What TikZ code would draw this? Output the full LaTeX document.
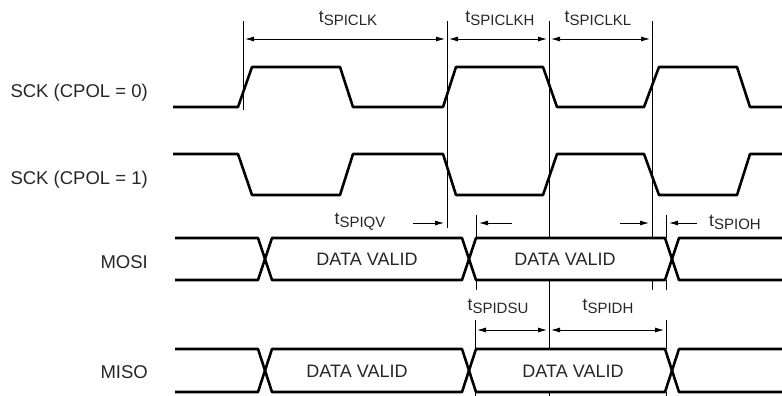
\documentclass[tikz,border=0pt]{standalone}
\usepackage{fontspec}
\setmainfont{Liberation Sans}
\usepackage{tikz}
\usetikzlibrary{calc,positioning,arrows.meta}
\newcommand{\tsub}[1]{t\raisebox{-3pt}{\fontsize{15}{15}\selectfont #1}}
\tikzset{
  >={Latex[length=9pt,width=5pt]},
  signal/.style={draw=black, line width=2.6pt, line join=round},
  busmask/.style={fill=white},
  marker/.style={draw=black, line width=0.9pt},
  dimarrow/.style={draw=black, line width=0.9pt, <->, shorten <=2pt, shorten >=2pt},
  pointarrow/.style={draw=black, line width=0.9pt, ->, shorten >=3pt},
  siglabel/.style={anchor=east, inner sep=0pt, text=black!85, font=\fontsize{18.5}{21}\selectfont},
  datalabel/.style={inner sep=0pt, text=black!85, font=\fontsize{18}{21}\selectfont},
  timelabel/.style={inner sep=0pt, text=black!85, font=\fontsize{17.5}{20}\selectfont},
}
\begin{document}
\begin{tikzpicture}[x=1pt, y=-1pt]
      \useasboundingbox (0,0) rectangle (782,396);

      % signal names
      \node[siglabel] (NameSckA) at (148,93) {SCK (CPOL = 0)};
      \node[siglabel] (NameSckB) at (148,180) {SCK (CPOL = 1)};
      \node[siglabel] (NameMosi) at (148,262) {MOSI};
      \node[siglabel] (NameMiso) at (148,372) {MISO};

      % reference lines
      \coordinate (EdgeATop) at (243,21);  \coordinate (EdgeABot) at (243,110);
      \coordinate (EdgeBTop) at (447,21);  \coordinate (EdgeBBot) at (447,228);
      \coordinate (EdgeCTop) at (549,21);  \coordinate (EdgeCBot) at (549,396);
      \coordinate (EdgeDTop) at (652,21);  \coordinate (EdgeDBot) at (652,290);
      \coordinate (MosiATop) at (476,215); \coordinate (MosiABot) at (476,290);
      \coordinate (MosiBTop) at (666,215); \coordinate (MosiBBot) at (666,290);
      \coordinate (MisoATop) at (475,320); \coordinate (MisoABot) at (475,396);
      \coordinate (MisoBTop) at (666,320); \coordinate (MisoBBot) at (666,396);
      \foreach \n in {EdgeA,EdgeB,EdgeC,EdgeD,MosiA,MosiB,MisoA,MisoB}
        \path[marker] (\n Top) -- (\n Bot);

      % clocks
      \path[signal] (173,107) -- (238,107) -- (252,67) -- (340,67) -- (353,107)
          -- (443,107) -- (456,67) -- (543,67) -- (557,107) -- (644,107)
          -- (659,67) -- (737,67) -- (750,107) -- (782,107);
      \path[signal] (173,154) -- (238,154) -- (252,195) -- (340,195) -- (353,154)
          -- (443,154) -- (456,195) -- (543,195) -- (557,154) -- (644,154)
          -- (659,195) -- (737,195) -- (750,154) -- (782,154);

      % data lines
      \foreach \top/\bot in {238/280, 349/392}{
        \path[busmask] (175,\top) rectangle (782,\bot);
        \path[signal] (175,\top) -- (258,\top) -- (272,\bot) -- (462,\bot) -- (476,\top)
            -- (665,\top) -- (679,\bot) -- (782,\bot);
        \path[signal] (175,\bot) -- (258,\bot) -- (272,\top) -- (462,\top) -- (476,\bot)
            -- (665,\bot) -- (679,\top) -- (782,\top);
      }
      \node[datalabel] (MosiValidA) at (367,259) {DATA VALID};
      \node[datalabel] (MosiValidB) at (565,259) {DATA VALID};
      \node[datalabel] (MisoValidA) at (357,371) {DATA VALID};
      \node[datalabel] (MisoValidB) at (573,371) {DATA VALID};

      % rows of the dimension arrows
      \coordinate (ClkRow) at (0,39);
      \coordinate (OutRow) at (0,223);
      \coordinate (InRow) at (0,330);

      \path[dimarrow] (EdgeATop |- ClkRow) -- (EdgeBTop |- ClkRow);
      \path[dimarrow] (EdgeBTop |- ClkRow) -- (EdgeCTop |- ClkRow);
      \path[dimarrow] (EdgeCTop |- ClkRow) -- (EdgeDTop |- ClkRow);
      \node[timelabel] (tClk) at (348,18) {\tsub{SPICLK}};
      \node[timelabel] (tClkH) at (500,18) {\tsub{SPICLKH}};
      \node[timelabel] (tClkL) at (598,18) {\tsub{SPICLKL}};

      \coordinate (QvFrom) at (413,223);
      \coordinate (QvBack) at (512,223);
      \coordinate (OhFrom) at (620,223);
      \coordinate (OhBack) at (697,223);
      \path[pointarrow] (QvFrom) -- (EdgeBTop |- OutRow);
      \path[pointarrow] (QvBack) -- (MosiATop |- OutRow);
      \path[pointarrow] (OhFrom) -- (EdgeDTop |- OutRow);
      \path[pointarrow] (OhBack) -- (MosiBTop |- OutRow);
      \node[timelabel] (tQv) at (360,222) {\tsub{SPIQV}};
      \node[timelabel] (tOh) at (735,222) {\tsub{SPIOH}};

      \path[dimarrow] (MisoATop |- InRow) -- (EdgeCTop |- InRow);
      \path[dimarrow] (EdgeCTop |- InRow) -- (MisoBTop |- InRow);
      \node[timelabel] (tDsu) at (498,306) {\tsub{SPIDSU}};
      \node[timelabel] (tDh) at (608,306) {\tsub{SPIDH}};

      \end{tikzpicture}
\end{document}
